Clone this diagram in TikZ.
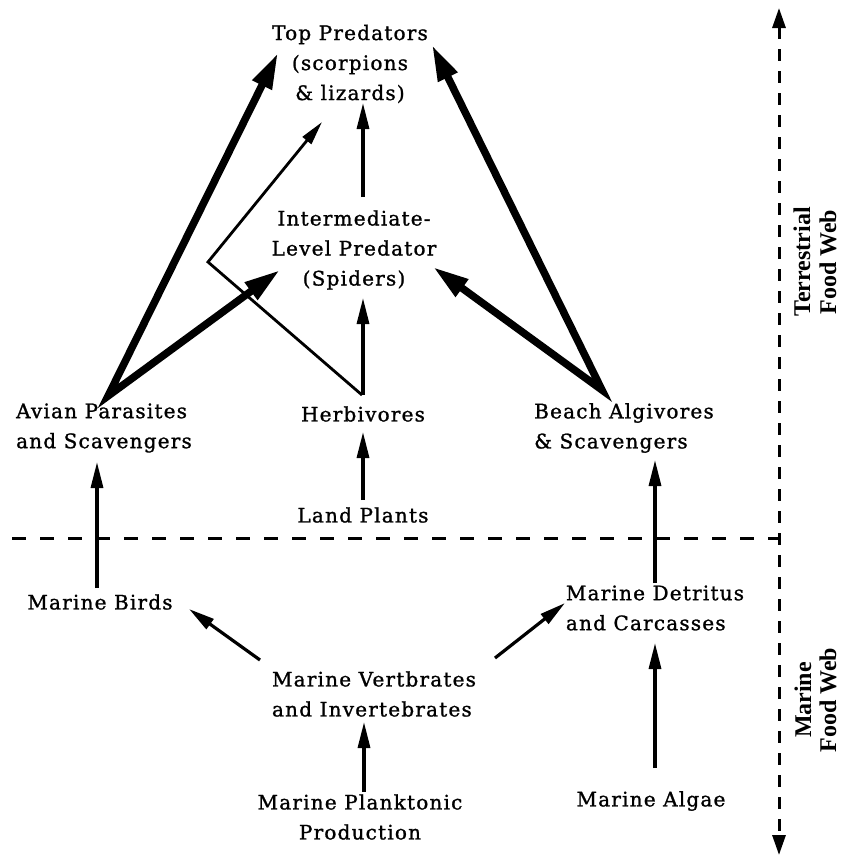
\documentclass[tikz,border=0pt]{standalone}
\usepackage{fontspec}
\setmainfont{DejaVu Serif}[LetterSpace=6,FakeBold=1.2]
\newfontfamily\sidefont{Liberation Serif}
\usetikzlibrary{arrows.meta,calc}
\tikzset{
  lbl/.style={inner sep=0pt, font=\fontsize{20}{30}\selectfont},
  side/.style={inner sep=0pt, rotate=90, align=center, font=\sidefont\bfseries\fontsize{24}{28}\selectfont},
  thinarr/.style={line width=3.2pt, -{Triangle[length=26pt,width=12pt]}},
  bentarr/.style={line width=2.8pt, -{Triangle[length=24pt,width=11pt]}},
  thickV/.style={line width=7.5pt, line join=miter, {Triangle[length=36pt,width=20pt]}-{Triangle[length=36pt,width=20pt]}},
  divider/.style={line width=3pt, dash pattern=on 14pt off 14pt},
  axis/.style={line width=3pt, dash pattern=on 12pt off 10pt, {Triangle[length=20pt,width=13pt]}-{Triangle[length=20pt,width=13pt]}}
}
\begin{document}
\begin{tikzpicture}[x=1pt,y=-1pt]
\useasboundingbox (0,0) rectangle (842,860);
% nodes
\node[lbl, align=center] (top) at (350,64) {Top Predators\\(scorpions\\\& lizards)};
\node[lbl, align=center] (inter) at (354,250) {Intermediate-\\Level Predator\\(Spiders)};
\node[lbl, align=left] (avian) at (104,428) {Avian Parasites\\and Scavengers};
\node[lbl] (herb) at (363,414) {Herbivores};
\node[lbl, align=left] (beach) at (624,428) {Beach Algivores\\\& Scavengers};
\node[lbl] (land) at (363,515) {Land Plants};
\node[lbl] (birds) at (100,602) {Marine Birds};
\node[lbl, align=left] (detr) at (655,608) {Marine Detritus\\and Carcasses};
\node[lbl, align=left] (vert) at (374,694) {Marine Vertbrates\\and Invertebrates};
\node[lbl, align=center] (plank) at (360,817) {Marine Planktonic\\Production};
\node[lbl] (algae) at (651,801) {Marine Algae};
\node[side] (terr) at (802,262) {Terrestrial};
\node[side] (terrfw) at (828,262) {Food Web};
\node[side] (mar) at (803,700) {Marine};
\node[side] (marfw) at (828,700) {Food Web};
% divider and axis
\coordinate (divL) at (12,538);
\coordinate (divR) at (780,538);
\coordinate (axT) at (779,8);
\coordinate (axB) at (779,855);
\draw[divider] (divL) -- (divR);
\draw[axis] (axT) -- (axB);
% terrestrial arrows
\draw[thinarr] ([shift={(9,-53)}]inter.center) -- ([shift={(13,39)}]top.center);
\draw[thinarr] ([shift={(0,-19)}]herb.center) -- ([shift={(9,48)}]inter.center);
\draw[thinarr] ([shift={(0,-15)}]land.center) -- ([shift={(0,18)}]herb.center);
\draw[bentarr] ([shift={(-1,-19)}]herb.center) -- ++(-154,-133) -- ([shift={(-28,58)}]top.center);
\draw[thickV] ([shift={(-72,-11)}]top.center) -- ([shift={(4,-32)}]avian.center) -- ([shift={(-74,20)}]inter.center);
\draw[thickV] ([shift={(82,-19)}]top.center) -- ([shift={(-22,-38)}]beach.center) -- ([shift={(79,17)}]inter.center);
% marine arrows
\draw[thinarr] ([shift={(-3,-14)}]birds.center) -- ([shift={(-7,34)}]avian.center);
\draw[thinarr] ([shift={(-114,-34)}]vert.center) -- ([shift={(89,7)}]birds.center);
\draw[thinarr] ([shift={(121,-36)}]vert.center) -- ([shift={(-90,-5)}]detr.center);
\draw[thinarr] ([shift={(4,-25)}]plank.center) -- ([shift={(-10,28)}]vert.center);
\draw[thinarr] ([shift={(4,-33)}]algae.center) -- ([shift={(0,35)}]detr.center);
\draw[thinarr] ([shift={(0,-25)}]detr.center) -- ([shift={(31,32)}]beach.center);
\end{tikzpicture}
\end{document}
